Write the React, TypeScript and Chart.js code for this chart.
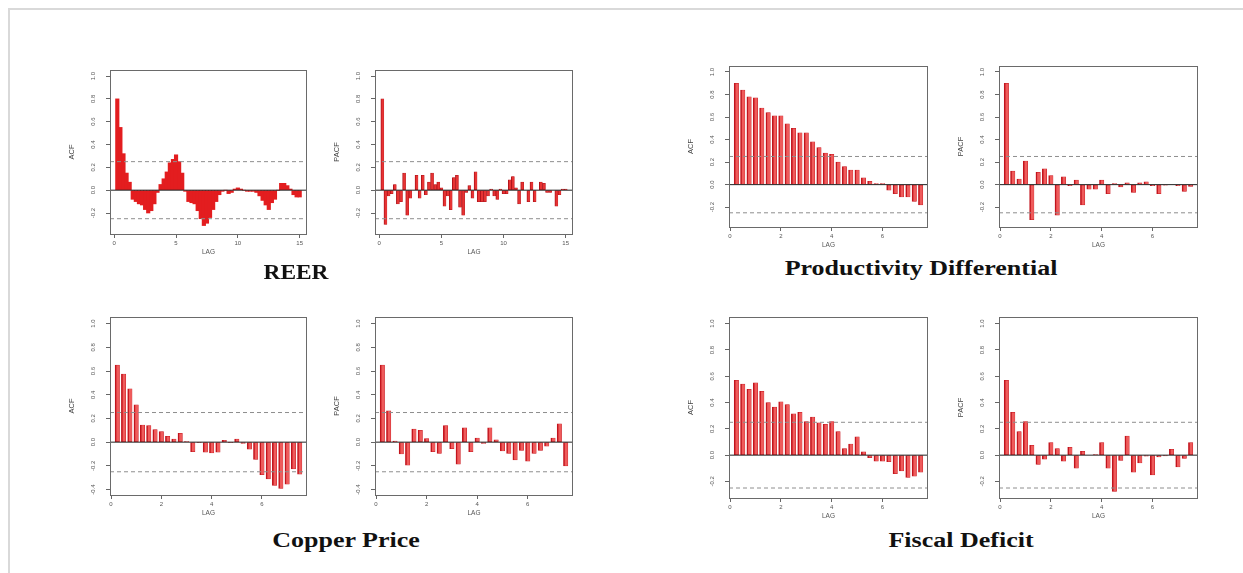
import React, { useEffect, useRef } from 'react';
import { Chart, registerables } from 'chart.js';

Chart.register(...registerables);

// ---------------- data ----------------
const LAG_STEP = 0.25; // quarterly lags, expressed in years
const CONF_BOUND = 0.25; // +/- 2/sqrt(n)

const REER_ACF = [
  0.8, 0.55, 0.32, 0.15, 0.07, -0.08, -0.1, -0.12, -0.13, -0.17,
  -0.2, -0.18, -0.12, -0.02, 0.05, 0.1, 0.16, 0.24, 0.27, 0.31,
  0.25, 0.15, -0.01, -0.1, -0.11, -0.12, -0.18, -0.25, -0.31, -0.29,
  -0.24, -0.17, -0.1, -0.04, -0.01, 0.0, -0.03, -0.02, 0.01, 0.02,
  0.01, 0.0, -0.01, -0.01, -0.01, -0.02, -0.05, -0.09, -0.13, -0.17,
  -0.11, -0.08, 0.0, 0.06, 0.06, 0.04, 0.01, -0.04, -0.06, -0.06,
];
const REER_PACF = [
  0.8, -0.3, -0.05, -0.03, 0.05, -0.12, -0.1, 0.15, -0.22, -0.07,
  0.0, 0.13, -0.07, 0.13, -0.04, 0.07, 0.15, 0.05, 0.07, 0.02,
  -0.14, -0.05, -0.17, 0.11, 0.13, -0.15, -0.22, -0.02, 0.04, -0.07,
  0.16, -0.1, -0.1, -0.1, -0.05, 0.01, -0.05, -0.08, 0.01, -0.03,
  -0.03, 0.09, 0.12, 0.02, -0.12, 0.07, 0.0, -0.1, 0.07, -0.1,
  0.0, 0.07, 0.06, -0.02, -0.02, 0.0, -0.14, -0.04, 0.01, 0.01,
];
const PROD_ACF = [
  0.9, 0.84, 0.78, 0.77, 0.68, 0.64, 0.61, 0.61, 0.54, 0.5,
  0.46, 0.46, 0.38, 0.33, 0.28, 0.27, 0.2, 0.16, 0.13, 0.13,
  0.06, 0.03, 0.01, 0.01, -0.05, -0.08, -0.11, -0.11, -0.15, -0.18,
];
const PROD_PACF = [
  0.9, 0.12, 0.05, 0.21, -0.31, 0.11, 0.14, 0.08, -0.27, 0.07,
  -0.01, 0.04, -0.18, -0.04, -0.04, 0.04, -0.08, 0.01, -0.02, 0.015,
  -0.07, 0.015, 0.025, -0.01, -0.08, -0.003, 0.0, -0.01, -0.06, -0.015,
];
const COPPER_ACF = [
  0.65, 0.575, 0.45, 0.315, 0.145, 0.14, 0.105, 0.09, 0.05, 0.025,
  0.075, 0.005, -0.08, -0.005, -0.085, -0.09, -0.085, 0.015, -0.005, 0.025,
  -0.01, -0.06, -0.145, -0.275, -0.31, -0.365, -0.39, -0.355, -0.225, -0.27,
];
const COPPER_PACF = [
  0.65, 0.265, 0.01, -0.1, -0.195, 0.11, 0.1, 0.03, -0.08, -0.095,
  0.14, -0.055, -0.185, 0.12, -0.08, 0.035, -0.01, 0.12, 0.02, -0.075,
  -0.095, -0.15, -0.07, -0.16, -0.095, -0.07, -0.035, 0.035, 0.155, -0.2,
];
const FISCAL_ACF = [
  0.57, 0.54, 0.5, 0.55, 0.485, 0.4, 0.365, 0.405, 0.385, 0.315,
  0.325, 0.255, 0.29, 0.245, 0.235, 0.255, 0.18, 0.05, 0.085, 0.14,
  0.025, -0.02, -0.045, -0.045, -0.05, -0.14, -0.12, -0.17, -0.16, -0.13,
];
const FISCAL_PACF = [
  0.57, 0.325, 0.18, 0.255, 0.075, -0.07, -0.03, 0.095, 0.05, -0.045,
  0.06, -0.1, 0.03, 0.0, 0.003, 0.095, -0.1, -0.275, -0.04, 0.145,
  -0.13, -0.06, -0.008, -0.15, -0.013, -0.005, 0.045, -0.09, -0.025, 0.095,
];

const X_TICKS_REER = [0, 5, 10, 15];
const X_TICKS_SHORT = [0, 2, 4, 6];
const Y_TICKS = [-0.2, 0, 0.2, 0.4, 0.6, 0.8, 1.0];
const Y_TICKS_COPPER = [-0.4, -0.2, 0, 0.2, 0.4, 0.6, 0.8, 1.0];

const TITLE_TEXTS = ['REER', 'Productivity Differential', 'Copper Price', 'Fiscal Deficit'];

// ---------------- layout ----------------
const PAD_L = 50;
const PAD_T = 8;
const PAD_R = 8;
const PAD_B = 28;

type Panel = {
  values: number[];
  label: string;
  left: number; top: number; w: number; h: number;
  xMin: number; xMax: number; yMin: number; yMax: number;
  xTicks: number[]; yTicks: number[];
  style: 'area' | 'thin' | 'normal';
};

const PANELS: Panel[] = [
  { values: REER_ACF, label: 'ACF', left: 110, top: 70, w: 197, h: 164, xMin: -0.34, xMax: 15.59, yMin: -0.384, yMax: 1.053, xTicks: X_TICKS_REER, yTicks: Y_TICKS, style: 'area' },
  { values: REER_PACF, label: 'PACF', left: 375, top: 70, w: 198, h: 164, xMin: -0.34, xMax: 15.59, yMin: -0.384, yMax: 1.053, xTicks: X_TICKS_REER, yTicks: Y_TICKS, style: 'thin' },
  { values: PROD_ACF, label: 'ACF', left: 729, top: 66, w: 199, h: 161, xMin: -0.04, xMax: 7.79, yMin: -0.376, yMax: 1.053, xTicks: X_TICKS_SHORT, yTicks: Y_TICKS, style: 'normal' },
  { values: PROD_PACF, label: 'PACF', left: 999, top: 66, w: 199, h: 161, xMin: -0.04, xMax: 7.79, yMin: -0.376, yMax: 1.053, xTicks: X_TICKS_SHORT, yTicks: Y_TICKS, style: 'normal' },
  { values: COPPER_ACF, label: 'ACF', left: 110, top: 317, w: 197, h: 178, xMin: -0.04, xMax: 7.79, yMin: -0.446, yMax: 1.056, xTicks: X_TICKS_SHORT, yTicks: Y_TICKS_COPPER, style: 'normal' },
  { values: COPPER_PACF, label: 'PACF', left: 375, top: 317, w: 198, h: 178, xMin: -0.04, xMax: 7.79, yMin: -0.446, yMax: 1.056, xTicks: X_TICKS_SHORT, yTicks: Y_TICKS_COPPER, style: 'normal' },
  { values: FISCAL_ACF, label: 'ACF', left: 729, top: 317, w: 199, h: 181, xMin: -0.04, xMax: 7.79, yMin: -0.326, yMax: 1.051, xTicks: X_TICKS_SHORT, yTicks: Y_TICKS, style: 'normal' },
  { values: FISCAL_PACF, label: 'PACF', left: 999, top: 317, w: 199, h: 181, xMin: -0.04, xMax: 7.79, yMin: -0.326, yMax: 1.051, xTicks: X_TICKS_SHORT, yTicks: Y_TICKS, style: 'normal' },
];

const TITLE_POS = [
  { x: 295.5, y: 271.5, sx: 1.17 },
  { x: 921, y: 268, sx: 1.3 },
  { x: 346, y: 540, sx: 1.3 },
  { x: 960.5, y: 539.5, sx: 1.3 },
];

function barStyle(style: Panel['style']) {
  if (style === 'area') {
    return { backgroundColor: '#e31d1f', borderWidth: 0, barThickness: 3.5 };
  }
  if (style === 'thin') {
    return {
      backgroundColor: '#e73333', borderColor: '#b0121a',
      borderWidth: { left: 1, right: 0.4, top: 0.4, bottom: 0.4 }, barThickness: 3,
    };
  }
  return {
    backgroundColor: '#ef5b5b', borderColor: '#c2141d',
    borderWidth: { left: 1.6, right: 0.5, top: 0.5, bottom: 0.5 }, barThickness: 4.4,
  };
}

function makeDecor(p: Panel) {
  return {
    id: 'rDecor',
    afterDraw(chart: any) {
      const { ctx, chartArea: ca } = chart;
      const ys = chart.scales.y;
      ctx.save();
      // box
      ctx.strokeStyle = '#6a6a6a';
      ctx.lineWidth = 1;
      ctx.strokeRect(Math.round(ca.left) + 0.5, Math.round(ca.top) + 0.5, Math.round(ca.right - ca.left) - 1, Math.round(ca.bottom - ca.top));
      // rotated y tick labels
      ctx.fillStyle = '#555';
      ctx.font = '6px "Liberation Sans", Arial, sans-serif';
      ctx.textAlign = 'center';
      ctx.textBaseline = 'middle';
      for (const v of p.yTicks) {
        const py = ys.getPixelForValue(v);
        ctx.save();
        ctx.translate(ca.left - 17, py);
        ctx.rotate(-Math.PI / 2);
        ctx.fillText(v.toFixed(1), 0, 0);
        ctx.restore();
      }
      // y axis title
      ctx.fillStyle = '#444';
      ctx.font = '7.5px "Liberation Sans", Arial, sans-serif';
      ctx.save();
      ctx.translate(ca.left - 38, (ca.top + ca.bottom) / 2);
      ctx.rotate(-Math.PI / 2);
      ctx.fillText(p.label, 0, 0);
      ctx.restore();
      // x axis title
      ctx.font = '6.5px "Liberation Sans", Arial, sans-serif';
      ctx.fillStyle = '#555';
      ctx.fillText('LAG', (ca.left + ca.right) / 2, ca.bottom + 18);
      ctx.restore();
    },
  };
}

function AcfPanel({ p }: { p: Panel }) {
  const ref = useRef<HTMLCanvasElement | null>(null);
  const W = p.w + PAD_L + PAD_R;
  const H = p.h + PAD_T + PAD_B;

  useEffect(() => {
    if (!ref.current) return;
    const bars = p.values.map((v, i) => ({ x: (i + 1) * LAG_STEP, y: v }));
    const hline = (y: number) => [{ x: p.xMin, y }, { x: p.xMax, y }];
    const chart = new Chart(ref.current, {
      type: 'bar',
      data: {
        datasets: [
          { type: 'line', data: hline(0), borderColor: '#222', borderWidth: 1, pointRadius: 0, order: 0 } as any,
          { type: 'line', data: hline(CONF_BOUND), borderColor: '#8e8e8e', borderDash: [4, 3], borderWidth: 1, pointRadius: 0, order: 0 } as any,
          { type: 'line', data: hline(-CONF_BOUND), borderColor: '#8e8e8e', borderDash: [4, 3], borderWidth: 1, pointRadius: 0, order: 0 } as any,
          { type: 'bar', data: bars, borderSkipped: false, order: 1, ...barStyle(p.style) } as any,
        ],
      },
      options: {
        animation: false,
        responsive: false,
        maintainAspectRatio: false,
        events: [],
        layout: { padding: { left: 0, top: PAD_T, right: PAD_R, bottom: 0 } },
        plugins: { legend: { display: false }, tooltip: { enabled: false } },
        scales: {
          x: {
            type: 'linear',
            min: p.xMin,
            max: p.xMax,
            offset: false,
            afterBuildTicks: (s: any) => { s.ticks = p.xTicks.map((v) => ({ value: v })); },
            afterFit: (s: any) => { s.height = PAD_B; },
            grid: { display: true, drawOnChartArea: false, drawTicks: true, tickLength: 4, color: '#666', lineWidth: 1, offset: false },
            border: { display: false },
            ticks: {
              font: { size: 6, family: '"Liberation Sans", Arial, sans-serif' },
              color: '#555',
              padding: 2,
              maxRotation: 0,
              minRotation: 0,
              autoSkip: false,
              callback: (v: any) => String(v),
            },
          },
          y: {
            type: 'linear',
            min: p.yMin,
            max: p.yMax,
            afterBuildTicks: (s: any) => { s.ticks = p.yTicks.map((v) => ({ value: v })); },
            afterFit: (s: any) => { s.width = PAD_L; },
            grid: { display: true, drawOnChartArea: false, drawTicks: true, tickLength: 4, color: '#666', lineWidth: 1 },
            border: { display: false },
            ticks: { display: false },
          },
        },
      } as any,
      plugins: [makeDecor(p)],
    });
    return () => chart.destroy();
  }, []);

  return (
    <canvas
      ref={ref}
      width={W}
      height={H}
      style={{ position: 'absolute', left: p.left - PAD_L, top: p.top - PAD_T, width: W, height: H, display: 'block' }}
    />
  );
}

export default function App() {
  return (
    <div style={{ position: 'absolute', left: 0, top: 0, width: 1243, height: 573, overflow: 'hidden', background: '#fff' }}>
      <div
        style={{
          position: 'absolute', left: 8, top: 8, width: 1235, height: 565, boxSizing: 'border-box',
          borderTop: '2px solid #d9d9d9', borderLeft: '2px solid #d9d9d9',
        }}
      />
      {PANELS.map((p, i) => <AcfPanel key={i} p={p} />)}
      {TITLE_TEXTS.map((t, i) => (
        <div
          key={t}
          style={{
            position: 'absolute', left: TITLE_POS[i].x, top: TITLE_POS[i].y,
            transform: `translate(-50%, -50%) scaleX(${TITLE_POS[i].sx})`,
            fontFamily: '"Liberation Serif", "Times New Roman", serif', fontWeight: 'bold',
            fontSize: 20, lineHeight: '20px', whiteSpace: 'nowrap', color: '#111',
          }}
        >
          {t}
        </div>
      ))}
    </div>
  );
}
